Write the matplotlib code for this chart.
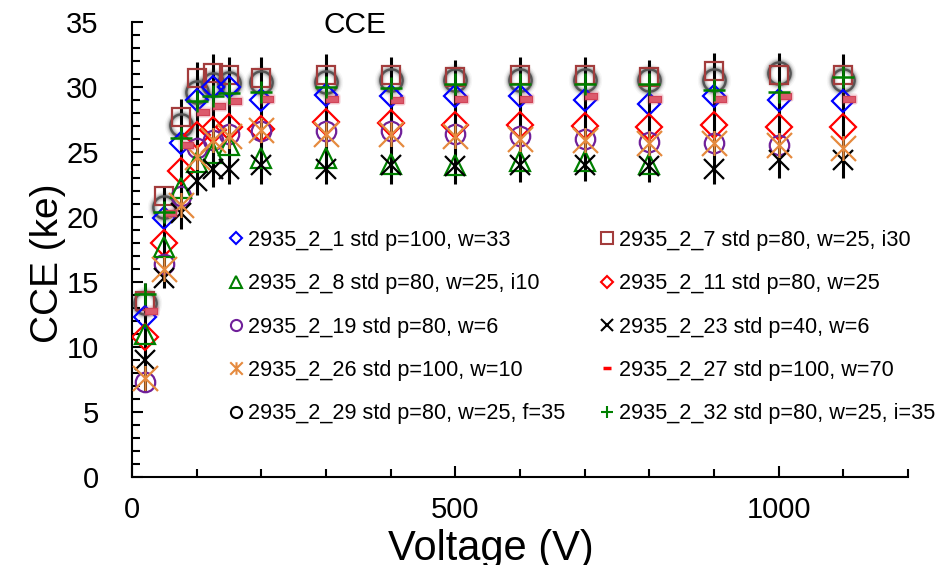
import matplotlib
matplotlib.use('Agg')
import matplotlib.pyplot as plt
from matplotlib.lines import Line2D
from matplotlib.path import Path
from matplotlib.ticker import MultipleLocator

plt.rcParams['font.family'] = ['Liberation Sans', 'DejaVu Sans']

# tensions (V)
voltage = [20, 50, 75, 100, 125, 150, 200, 300, 400, 500, 600, 700, 800, 900, 1000, 1100]

# CCE (ke), un tableau par échantillon
cce_1 = [12.3, 19.9, 25.7, 29.0, 30.0, 30.0, 29.0, 29.4, 29.3, 29.3, 29.3, 29.0, 28.7, 29.3, 29.0, 28.9]
cce_7 = [13.5, 21.6, 27.7, 30.7, 31.1, 30.9, 30.7, 30.9, 30.9, 30.8, 30.9, 30.9, 30.8, 31.2, 30.9, 30.9]
cce_8 = [11.0, 17.7, 22.2, 24.2, 24.9, 25.5, 24.5, 24.5, 24.1, 24.0, 24.3, 24.3, 24.1]
cce_11 = [10.8, 18.0, 23.5, 26.3, 26.7, 26.9, 26.8, 27.3, 27.2, 27.1, 27.1, 27.0, 26.9, 27.1, 26.9, 26.9]
cce_19 = [7.3, 16.4, 21.6, 25.3, 25.9, 26.4, 26.6, 26.6, 26.6, 26.4, 26.2, 26.0, 25.8, 25.7, 25.5]
cce_23 = [9.0, 15.3, 20.3, 22.8, 23.7, 23.7, 24.0, 23.7, 24.0, 23.9, 24.0, 24.0, 23.9, 23.7, 24.4, 24.4]
cce_26 = [7.6, 16.0, 20.9, 24.6, 25.9, 26.2, 26.7, 26.4, 26.4, 26.2, 26.0, 25.9, 25.7, 25.7, 25.5, 25.3]
cce_27 = [12.8, 20.3, 25.5, 28.1, 28.5, 28.9, 29.1, 29.1, 29.0, 29.1, 29.1, 29.3, 29.1, 29.1, 29.3, 29.1]
cce_29 = [13.4, 20.8, 27.1, 29.6, 30.2, 30.3, 30.4, 30.4, 30.5, 30.5, 30.5, 30.5, 30.5, 30.5, 31.1, 30.5]
cce_32 = [14.1, 20.4, 26.1, 28.9, 29.3, 29.5, 29.6, 30.0, 29.9, 30.2, 30.2, 30.2, 30.2, 29.8, 29.6, 30.8]

# moyenne et demi-barre d'erreur (traits noirs verticaux)
moy = [10.7, 18.4, 24.1, 26.8, 27.4, 27.4, 27.4, 27.5, 27.4, 27.3, 27.5, 27.55, 27.4, 27.55, 27.8, 27.75]
err = [4.2, 3.9, 5.0, 5.1, 5.1, 4.9, 4.9, 5.0, 4.9, 4.8, 4.8, 4.75, 4.7, 5.05, 4.8, 4.75]

labels = ['2935_2_1 std p=100, w=33', '2935_2_7 std p=80, w=25, i30',
          '2935_2_8 std p=80, w=25, i10', '2935_2_11 std p=80, w=25',
          '2935_2_19 std p=80, w=6', '2935_2_23 std p=40, w=6',
          '2935_2_26 std p=100, w=10', '2935_2_27 std p=100, w=70',
          '2935_2_29 std p=80, w=25, f=35', '2935_2_32 std p=80, w=25, i=35']

# marqueurs perso : astérisque (x + trait vertical) et tiret décalé à droite
asterisque = Path([(-0.5, -0.5), (0.5, 0.5), (-0.5, 0.5), (0.5, -0.5), (0, -0.5), (0, 0.5)],
                  [Path.MOVETO, Path.LINETO, Path.MOVETO, Path.LINETO, Path.MOVETO, Path.LINETO])
tiret = Path([(0, -0.25), (1, -0.25), (1, 0.25), (0, 0.25), (0, -0.25)],
             [Path.MOVETO, Path.LINETO, Path.LINETO, Path.LINETO, Path.CLOSEPOLY])

fig = plt.figure(figsize=(9.41, 5.65), dpi=100)
ax = fig.add_axes([0.1403, 0.1558, 0.8247, 0.8053])

# barres d'erreur
ax.errorbar(voltage, moy, yerr=err, fmt='none', ecolor='black', elinewidth=2.2, capsize=0, zorder=2)

# cercles noirs avec ombre floue
for lw, a in [(8, 0.04), (6, 0.07), (4.5, 0.1), (3.2, 0.16)]:
    ax.plot(voltage, cce_29, 'o', ms=16, mfc='none', mec='#202020', mew=lw, alpha=a, zorder=3)
ax.plot(voltage, cce_29, 'o', ms=16, mfc='none', mec='#555555', mew=1.8, zorder=3)

ax.plot(voltage, cce_7, 's', ms=13.5, mfc='none', mec='#a33c3c', mew=1.6, zorder=4)
ax.plot(voltage, cce_1, 'D', ms=11, mfc='none', mec='#0000ff', mew=1.6, zorder=4)
ax.plot(voltage, cce_11, 'D', ms=13, mfc='none', mec='#ff0000', mew=1.6, zorder=4)
ax.plot(voltage[:len(cce_19)], cce_19, 'o', ms=14, mfc='none', mec='#70209a', mew=1.6, zorder=4)
ax.plot(voltage[:len(cce_8)], cce_8, '^', ms=15, mfc='none', mec='#008000', mew=1.6, zorder=4)
ax.plot(voltage, cce_23, 'x', ms=14.5, mec='black', mew=1.6, zorder=4)
ax.plot(voltage, cce_26, marker=asterisque, ls='none', ms=18, mec='#e58a3e', mew=1.6, zorder=5)

# tirets rouges flous
for lw, a in [(4, 0.12), (2.5, 0.2)]:
    ax.plot(voltage, cce_27, marker=tiret, ls='none', ms=17, mfc='#d8485c', mec='#d8485c', mew=lw, alpha=a, zorder=5)
ax.plot(voltage, cce_27, marker=tiret, ls='none', ms=17, mfc='#dc5a6c', mec='#d04458', mew=0.8, zorder=5)

ax.plot(voltage, cce_32, '+', ms=16.5, mec='#008000', mew=1.8, zorder=6)

ax.set_xlim(0, 1200)
ax.set_ylim(0, 35)
ax.set_xticks([0, 500, 1000])
ax.xaxis.set_minor_locator(MultipleLocator(100))
ax.yaxis.set_major_locator(MultipleLocator(5))
ax.yaxis.set_minor_locator(MultipleLocator(1))
ax.tick_params(which='major', direction='in', length=8, width=1.5, labelsize=21)
ax.tick_params(which='minor', direction='in', length=6, width=1.5)
ax.tick_params(axis='y', which='major', pad=24)
ax.tick_params(axis='x', which='major', pad=14)
for s in ['top', 'right']:
    ax.spines[s].set_visible(False)
for s in ['left', 'bottom']:
    ax.spines[s].set_linewidth(1.5)

ax.set_xlabel('Voltage (V)', fontsize=30)
ax.xaxis.set_label_coords(0.463, -0.115)
ax.set_ylabel('CCE (ke)', fontsize=28)
ax.yaxis.set_label_coords(-0.085, 0.47)
fig.text(0.377, 0.956, 'CCE', fontsize=21.5, ha='center', va='center')

# légende (2 colonnes, remplie colonne par colonne)
poignees = [
    Line2D([], [], ls='none', marker='D', ms=6, mfc='none', mec='#0000ff', mew=1.5),
    Line2D([], [], ls='none', marker='^', ms=8, mfc='none', mec='#008000', mew=1.5),
    Line2D([], [], ls='none', marker='o', ms=8, mfc='none', mec='#70209a', mew=1.5),
    Line2D([], [], ls='none', marker=asterisque, ms=9, mec='#e58a3e', mew=1.5),
    Line2D([], [], ls='none', marker='o', ms=8, mfc='none', mec='black', mew=1.5),
    Line2D([], [], ls='none', marker='s', ms=8, mfc='none', mec='#a33c3c', mew=1.5),
    Line2D([], [], ls='none', marker='D', ms=6, mfc='none', mec='#ff0000', mew=1.5),
    Line2D([], [], ls='none', marker='x', ms=8, mec='black', mew=1.5),
    Line2D([], [], ls='none', marker='_', ms=6, mec='#ff0000', mew=2.5),
    Line2D([], [], ls='none', marker='+', ms=9, mec='#008000', mew=1.5),
]
ordre = [0, 2, 4, 6, 8, 1, 3, 5, 7, 9]
ax.legend(poignees, [labels[i] for i in ordre], ncol=2, frameon=False, fontsize=15.6,
          loc='upper left', bbox_to_anchor=(0.126, 0.543), borderpad=0, borderaxespad=0,
          handlelength=0.6, handletextpad=0.25, columnspacing=1.6, labelspacing=1.03)

fig.savefig('out.png', dpi=100)
